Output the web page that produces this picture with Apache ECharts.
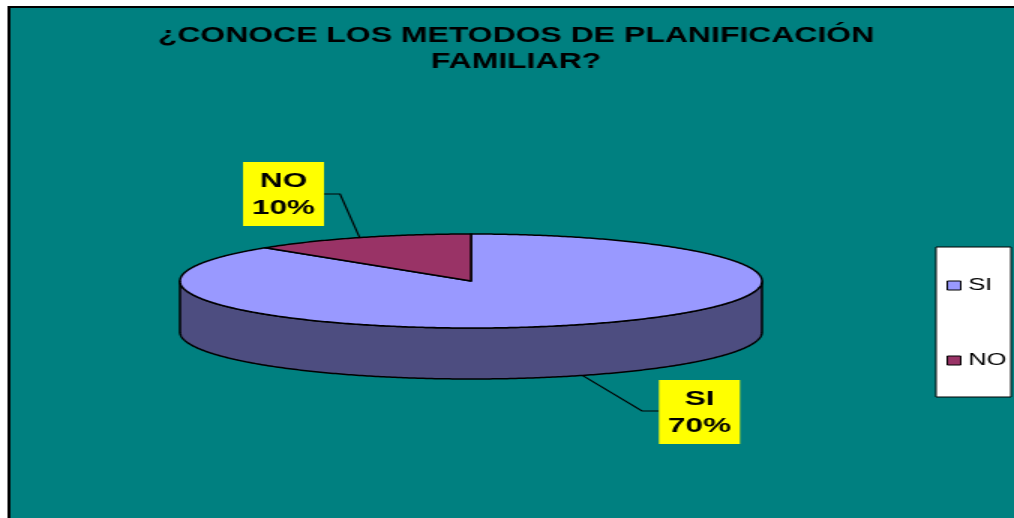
<!DOCTYPE html>
<html>
<head>
<meta charset="utf-8">
<style>
html,body{margin:0;padding:0;background:#fff;overflow:hidden;width:1014px;height:518px}
#c{width:676px;height:518px;transform:scaleX(1.5);transform-origin:0 0}
</style>
<script src="https://cdn.jsdelivr.net/npm/echarts@6/dist/echarts.min.js"></script>
</head>
<body>
<div id="c"></div>
<script>
const titleText = '¿CONOCE LOS METODOS DE PLANIFICACIÓN\nFAMILIAR?';
const categories = ['SI', 'NO'];
const values = [70, 10];
const sliceColors = ['#9999FF', '#993366'];
const wallColors = ['#4D4D80', '#4D1A33'];

// Layout (the whole canvas is stretched 1.5x horizontally, as the reference image is)
const PIE = {cx: 314, cy: 281, rx: 194, ry: 47, depth: 51};
const LABELS = [
  {box: [439.3, 380, 54, 64], elbow: [428, 411], end: [439.3, 411], onWall: true},
  {box: [162, 162, 54, 64], elbow: [226.7, 194], end: [216, 194], onWall: false}
];

const total = values.reduce((a, b) => a + b, 0);
const TAU = Math.PI * 2;
function pt(a, dy) {
  return [PIE.cx + PIE.rx * Math.sin(a), PIE.cy + (dy || 0) - PIE.ry * Math.cos(a)];
}
function arc(a0, a1, dy) {
  const n = Math.max(2, Math.ceil(Math.abs(a1 - a0) / 0.01));
  const out = [];
  for (let i = 0; i <= n; i++) out.push(pt(a0 + (a1 - a0) * i / n, dy));
  return out;
}
function sliceAngles(i) {
  const before = values.slice(0, i).reduce((a, b) => a + b, 0);
  return [before / total * TAU, (before + values[i]) / total * TAU];
}
const stroke = {stroke: '#000', lineWidth: 1.5, lineJoin: 'round'};

function renderSlice(i) {
  return function () {
    const [a0, a1] = sliceAngles(i);
    const mid = (a0 + a1) / 2;
    const children = [];
    const f0 = Math.max(a0, Math.PI / 2), f1 = Math.min(a1, Math.PI * 1.5);
    if (f1 > f0) {
      const points = arc(f0, f1, 0).concat(arc(f1, f0, PIE.depth));
      children.push({type: 'polygon', shape: {points}, style: Object.assign({fill: wallColors[i]}, stroke)});
    }
    children.push({
      type: 'polygon',
      shape: {points: [[PIE.cx, PIE.cy]].concat(arc(a0, a1, 0))},
      style: Object.assign({fill: sliceColors[i]}, stroke)
    });
    const L = LABELS[i];
    children.push({
      type: 'polyline',
      shape: {points: [pt(mid, L.onWall ? PIE.depth : 0), L.elbow, L.end]},
      style: {fill: 'none', stroke: '#000', lineWidth: 1.2}
    });
    children.push({
      type: 'rect',
      shape: {x: L.box[0], y: L.box[1], width: L.box[2], height: L.box[3]},
      style: {fill: '#FFFF00'}
    });
    children.push({
      type: 'text',
      style: {
        text: categories[i] + '\n' + values[i] + '%',
        x: L.box[0] + L.box[2] / 2,
        y: L.box[1] + L.box[3] / 2 + 0.5,
        align: 'center',
        verticalAlign: 'middle',
        fill: '#000',
        font: 'bold 21px "Liberation Sans"',
        lineHeight: 27
      }
    });
    return {type: 'group', children};
  };
}

const chart = echarts.init(document.getElementById('c'));
chart.setOption({
  animation: false,
  backgroundColor: '#fff',
  graphic: [{
    type: 'rect', z: -1,
    shape: {x: 6, y: 7, width: 720, height: 560},
    style: {fill: '#008080', stroke: '#000', lineWidth: 2}
  }],
  title: {
    text: titleText,
    left: 344, top: 23, textAlign: 'center',
    padding: 0,
    textStyle: {fontFamily: '"Liberation Sans"', fontWeight: 'bold', fontSize: 21.3, lineHeight: 26, color: '#000'}
  },
  legend: {
    orient: 'vertical',
    left: 624, top: 247,
    padding: [30, 3, 28, 7],
    itemGap: 58,
    itemWidth: 9, itemHeight: 9,
    backgroundColor: '#fff',
    borderColor: '#000', borderWidth: 1,
    icon: 'rect',
    itemStyle: {borderColor: '#000', borderWidth: 1},
    textStyle: {fontFamily: '"Liberation Sans"', fontSize: 17, color: '#000', padding: [0, 0, 0, 0]},
    data: categories
  },
  series: categories.map((name, i) => ({
    type: 'custom',
    name,
    coordinateSystem: 'none',
    silent: true,
    z: 2 + i,
    itemStyle: {color: sliceColors[i]},
    data: [values[i]],
    renderItem: renderSlice(i)
  }))
});
</script>
</body>
</html>
